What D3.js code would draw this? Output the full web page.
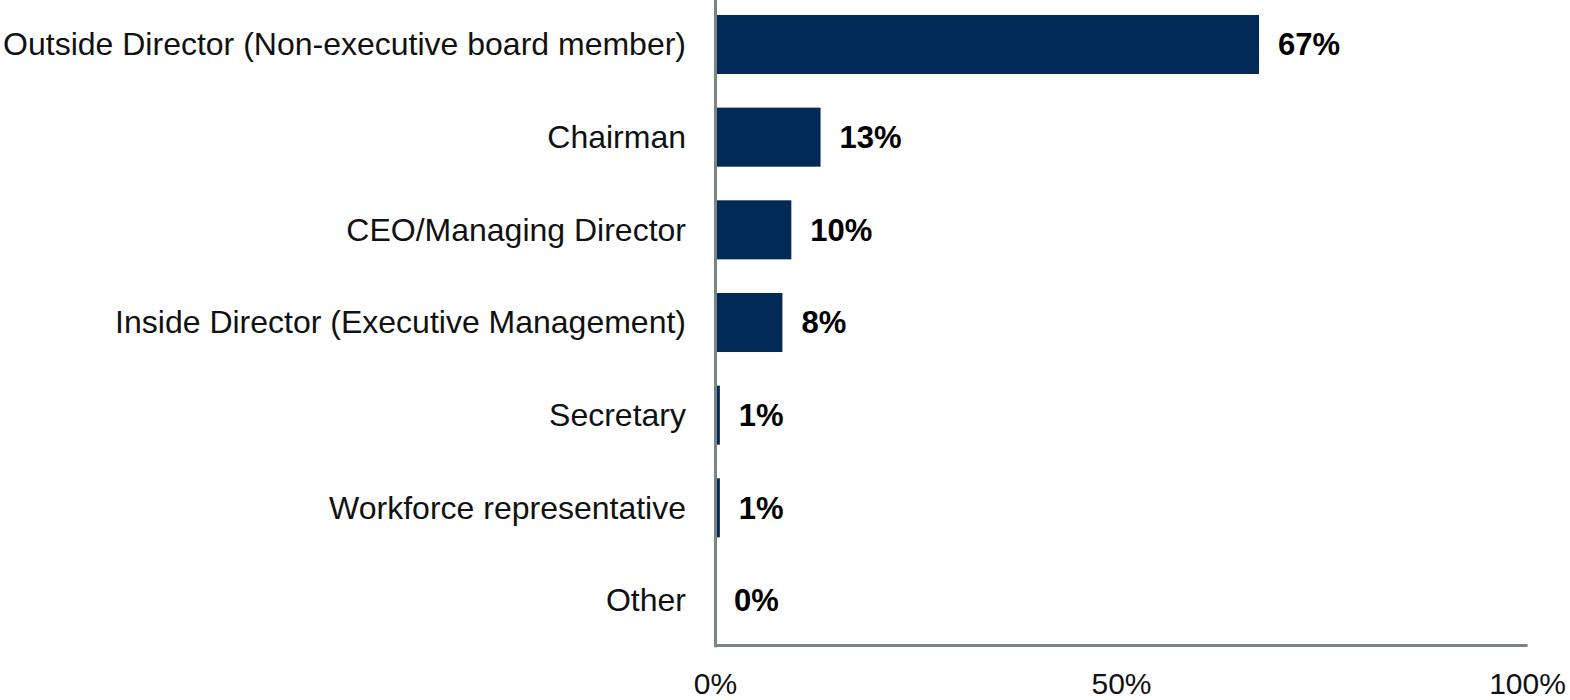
<!DOCTYPE html>
<html>
<head>
<meta charset="utf-8">
<title>Board role</title>
<style>
  body { margin: 0; background: #ffffff; }
  svg { display: block; font-family: "Liberation Sans", Arial, sans-serif; }
  .axis path { stroke: #7a8482; stroke-width: 3; }
  .axis text { fill: #111; }
  .bar { fill: #012a57; }
  .val { font-weight: bold; fill: #000; }
</style>
<script src="https://d3js.org/d3.v7.min.js"></script>
</head>
<body>
<svg width="1570" height="700"></svg>
<script>
// values
var roles = ["Outside Director (Non-executive board member)", "Chairman", "CEO/Managing Director",
             "Inside Director (Executive Management)", "Secretary", "Workforce representative", "Other"];
var shares = [67, 13, 9.4, 8.3, 0.6, 0.6, 0];
var shareLabels = ["67%", "13%", "10%", "8%", "1%", "1%", "0%"];
var xTicks = [0, 50, 100];

var svg = d3.select("svg");

var x = d3.scaleLinear().domain([0, 100]).range([715, 1527]);
var y = d3.scaleBand().domain(roles).range([-1.7, 646.7])
    .paddingInner(0.363).paddingOuter(0.18);

var data = roles.map(function(r, i) { return { name: r, value: shares[i], label: shareLabels[i] }; });

svg.selectAll(".bar")
  .data(data)
  .enter().append("rect")
    .attr("class", "bar")
    .attr("x", x(0))
    .attr("y", function(d) { return y(d.name); })
    .attr("width", function(d) { return x(d.value) - x(0); })
    .attr("height", y.bandwidth());

svg.selectAll(".val")
  .data(data)
  .enter().append("text")
    .attr("class", "val")
    .attr("x", function(d) { return x(d.value) + 19; })
    .attr("y", function(d) { return y(d.name) + y.bandwidth() / 2; })
    .attr("dy", "0.35em")
    .style("font-size", "31px")
    .text(function(d) { return d.label; });

// x axis
svg.append("g")
    .attr("class", "axis axis--x")
    .attr("transform", "translate(0,645)")
    .call(d3.axisBottom(x).tickValues(xTicks).tickSize(0).tickPadding(28)
      .tickFormat(function(d) { return d + "%"; }))
    .call(function(g) {
      g.selectAll("text").style("font-size", "30px");
      g.attr("font-family", null).attr("font-size", null);
    });

// y axis
svg.append("g")
    .attr("class", "axis axis--y")
    .attr("transform", "translate(715,0)")
    .call(d3.axisLeft(y).tickSize(0).tickPadding(29))
    .call(function(g) {
      g.selectAll("text").style("font-size", "32px").attr("dy", "0.34em");
      g.attr("font-family", null).attr("font-size", null);
    });
</script>
</body>
</html>
